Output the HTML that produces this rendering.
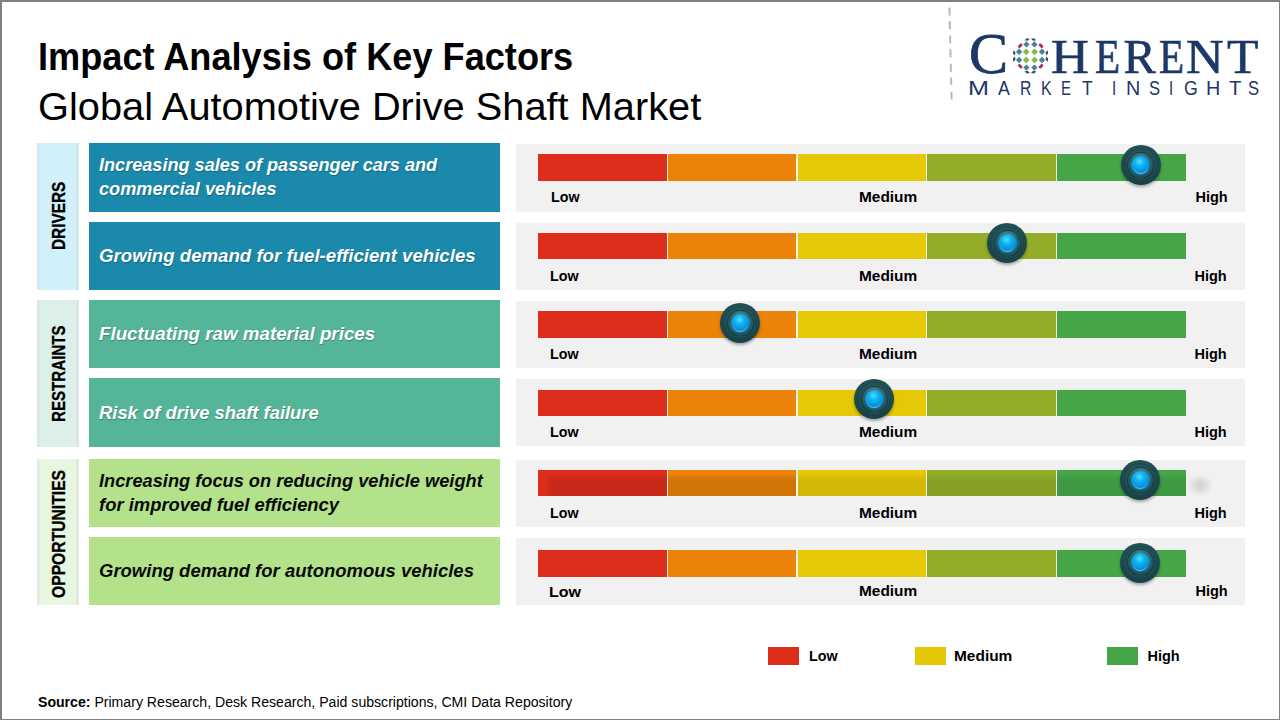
<!DOCTYPE html>
<html><head><meta charset="utf-8"><style>
html,body{margin:0;padding:0;}
body{width:1280px;height:720px;position:relative;overflow:hidden;background:#fff;font-family:"Liberation Sans",sans-serif;}
.frame{position:absolute;left:0;top:0;width:1280px;height:720px;box-sizing:border-box;border-top:2px solid #7f7f7f;border-left:2px solid #7f7f7f;border-right:1px solid #7f7f7f;border-bottom:1px solid #7f7f7f;z-index:50;}
.t{position:absolute;white-space:pre;line-height:1;transform-origin:0 0;}
.b{position:absolute;}
.pan{position:absolute;left:516px;width:729px;background:#f1f1f2;}
.seg{position:absolute;}
.k{position:absolute;border-radius:50%;box-sizing:border-box;}
</style></head><body>
<div class="frame"></div>
<div class="t" style="left:38.15px;top:37.83px;font-size:38px;transform:scaleX(0.9515);font-weight:bold;color:#000;">Impact Analysis of Key Factors</div>
<div class="t" style="left:37.96px;top:86.99px;font-size:39px;transform:scaleX(1.0200);color:#000;">Global Automotive Drive Shaft Market</div>
<div class="b" style="left:37px;top:143px;width:41.5px;height:147px;background:#d1f0f9;box-shadow:inset 2.5px 0 0 rgba(215,222,226,0.45), inset -3px 0 0 rgba(215,222,226,0.5);"></div>
<div class="b" style="left:37px;top:300px;width:41.5px;height:147px;background:#ddefe9;box-shadow:inset 2.5px 0 0 rgba(215,222,226,0.45), inset -3px 0 0 rgba(215,222,226,0.5);"></div>
<div class="b" style="left:37px;top:459px;width:41.5px;height:146px;background:#e8f5df;box-shadow:inset 2.5px 0 0 rgba(215,222,226,0.45), inset -3px 0 0 rgba(215,222,226,0.5);"></div>
<div class="b" style="left:89px;top:143px;width:411px;height:69px;background:#1a89ab;"></div>
<div class="t" style="left:98.70px;top:154.92px;font-size:19.0px;transform:scaleX(0.9530);font-weight:bold;font-style:italic;color:#fff;text-shadow:0.6px 0.8px 1px rgba(0,40,50,0.35);">Increasing sales of passenger cars and</div>
<div class="t" style="left:98.70px;top:178.92px;font-size:19.0px;transform:scaleX(0.9550);font-weight:bold;font-style:italic;color:#fff;text-shadow:0.6px 0.8px 1px rgba(0,40,50,0.35);">commercial vehicles</div>
<div class="b" style="left:89px;top:222px;width:411px;height:68px;background:#1a89ab;"></div>
<div class="t" style="left:98.70px;top:245.92px;font-size:19.0px;transform:scaleX(0.9810);font-weight:bold;font-style:italic;color:#fff;text-shadow:0.6px 0.8px 1px rgba(0,40,50,0.35);">Growing demand for fuel-efficient vehicles</div>
<div class="b" style="left:89px;top:300px;width:411px;height:68px;background:#54b599;"></div>
<div class="t" style="left:98.70px;top:323.92px;font-size:19.0px;transform:scaleX(0.9870);font-weight:bold;font-style:italic;color:#fff;text-shadow:0.6px 0.8px 1px rgba(0,40,50,0.35);">Fluctuating raw material prices</div>
<div class="b" style="left:89px;top:378px;width:411px;height:69px;background:#54b599;"></div>
<div class="t" style="left:98.70px;top:402.92px;font-size:19.0px;transform:scaleX(0.9680);font-weight:bold;font-style:italic;color:#fff;text-shadow:0.6px 0.8px 1px rgba(0,40,50,0.35);">Risk of drive shaft failure</div>
<div class="b" style="left:89px;top:459px;width:411px;height:68px;background:#b3e28a;"></div>
<div class="t" style="left:98.70px;top:470.92px;font-size:19.0px;transform:scaleX(0.9590);font-weight:bold;font-style:italic;color:#0a0a0a;">Increasing focus on reducing vehicle weight</div>
<div class="t" style="left:98.70px;top:494.92px;font-size:19.0px;transform:scaleX(0.9690);font-weight:bold;font-style:italic;color:#0a0a0a;">for improved fuel efficiency</div>
<div class="b" style="left:89px;top:537px;width:411px;height:68px;background:#b3e28a;"></div>
<div class="t" style="left:98.70px;top:560.92px;font-size:19.0px;transform:scaleX(0.9730);font-weight:bold;font-style:italic;color:#0a0a0a;">Growing demand for autonomous vehicles</div>
<div class="t" style="left:50.9px;top:250px;font-size:17.5px;font-weight:bold;color:#000;-webkit-text-stroke:0.3px #000;transform:rotate(-90deg) scaleX(0.877);">DRIVERS</div>
<div class="t" style="left:50.9px;top:422px;font-size:17.5px;font-weight:bold;color:#000;-webkit-text-stroke:0.3px #000;transform:rotate(-90deg) scaleX(0.864);">RESTRAINTS</div>
<div class="t" style="left:50.9px;top:598px;font-size:17.5px;font-weight:bold;color:#000;-webkit-text-stroke:0.3px #000;transform:rotate(-90deg) scaleX(0.896);">OPPORTUNITIES</div>
<div class="pan" style="top:144px;height:68px;"></div>
<div class="seg" style="left:538px;top:154px;width:129px;height:27px;background:#de2e1b;"></div>
<div class="seg" style="left:668px;top:154px;width:128px;height:27px;background:#eb8308;"></div>
<div class="seg" style="left:798px;top:154px;width:128px;height:27px;background:#e5c906;"></div>
<div class="seg" style="left:927px;top:154px;width:129px;height:27px;background:#93ad28;"></div>
<div class="seg" style="left:1057px;top:154px;width:129px;height:27px;background:#46a547;"></div>
<div class="t" style="left:550.90px;top:189.73px;font-size:14.5px;transform:scaleX(0.9850);font-weight:bold;color:#000;">Low</div>
<div class="t" style="left:859.40px;top:189.73px;font-size:14.5px;transform:scaleX(1.0630);font-weight:bold;color:#000;">Medium</div>
<div class="t" style="left:1195.50px;top:189.73px;font-size:14.5px;font-weight:bold;color:#000;">High</div>
<div class="k" style="left:1120.5px;top:145.2px;width:40px;height:40px;background:radial-gradient(circle at 50% 40%, #2a5c62 0, #1f4f55 50%, #163f44 78%, #0d2d31 95%, #0a282c 100%);box-shadow:0 2px 3px rgba(0,0,0,0.32);z-index:5;"></div><div class="k" style="left:1123.5px;top:148.2px;width:34px;height:34px;border:1px solid rgba(12,42,46,0.22);z-index:6;"></div><div class="k" style="left:1127.0px;top:151.7px;width:27px;height:27px;background:radial-gradient(circle at 50% 22%, #4a878d 0, #2c646a 42%, #1b474d 100%);border:1px solid rgba(10,36,40,0.5);z-index:7;"></div><div class="k" style="left:1131.0px;top:155.7px;width:19px;height:19px;background:radial-gradient(circle at 45% 30%, #4de2ff 0, #12b5f3 26%, #0898de 52%, #0a74b8 80%, #0a5688 100%);z-index:8;"></div><div class="k" style="left:1133.5px;top:159.7px;width:14px;height:14px;border-bottom:1.5px solid rgba(130,220,240,0.7);z-index:9;"></div>
<div class="pan" style="top:223px;height:67px;"></div>
<div class="seg" style="left:538px;top:233px;width:129px;height:26px;background:#de2e1b;"></div>
<div class="seg" style="left:668px;top:233px;width:128px;height:26px;background:#eb8308;"></div>
<div class="seg" style="left:798px;top:233px;width:128px;height:26px;background:#e5c906;"></div>
<div class="seg" style="left:927px;top:233px;width:129px;height:26px;background:#93ad28;"></div>
<div class="seg" style="left:1057px;top:233px;width:129px;height:26px;background:#46a547;"></div>
<div class="t" style="left:549.70px;top:268.73px;font-size:14.5px;transform:scaleX(0.9850);font-weight:bold;color:#000;">Low</div>
<div class="t" style="left:859.40px;top:268.73px;font-size:14.5px;transform:scaleX(1.0630);font-weight:bold;color:#000;">Medium</div>
<div class="t" style="left:1194.50px;top:268.73px;font-size:14.5px;font-weight:bold;color:#000;">High</div>
<div class="k" style="left:987.0px;top:223.0px;width:40px;height:40px;background:radial-gradient(circle at 50% 40%, #2a5c62 0, #1f4f55 50%, #163f44 78%, #0d2d31 95%, #0a282c 100%);box-shadow:0 2px 3px rgba(0,0,0,0.32);z-index:5;"></div><div class="k" style="left:990.0px;top:226.0px;width:34px;height:34px;border:1px solid rgba(12,42,46,0.22);z-index:6;"></div><div class="k" style="left:993.5px;top:229.5px;width:27px;height:27px;background:radial-gradient(circle at 50% 22%, #4a878d 0, #2c646a 42%, #1b474d 100%);border:1px solid rgba(10,36,40,0.5);z-index:7;"></div><div class="k" style="left:997.5px;top:233.5px;width:19px;height:19px;background:radial-gradient(circle at 45% 30%, #4de2ff 0, #12b5f3 26%, #0898de 52%, #0a74b8 80%, #0a5688 100%);z-index:8;"></div><div class="k" style="left:1000.0px;top:237.5px;width:14px;height:14px;border-bottom:1.5px solid rgba(130,220,240,0.7);z-index:9;"></div>
<div class="pan" style="top:301px;height:67px;"></div>
<div class="seg" style="left:538px;top:311px;width:129px;height:27px;background:#de2e1b;"></div>
<div class="seg" style="left:668px;top:311px;width:128px;height:27px;background:#eb8308;"></div>
<div class="seg" style="left:798px;top:311px;width:128px;height:27px;background:#e5c906;"></div>
<div class="seg" style="left:927px;top:311px;width:129px;height:27px;background:#93ad28;"></div>
<div class="seg" style="left:1057px;top:311px;width:129px;height:27px;background:#46a547;"></div>
<div class="t" style="left:549.70px;top:346.73px;font-size:14.5px;transform:scaleX(0.9850);font-weight:bold;color:#000;">Low</div>
<div class="t" style="left:859.40px;top:346.73px;font-size:14.5px;transform:scaleX(1.0630);font-weight:bold;color:#000;">Medium</div>
<div class="t" style="left:1194.50px;top:346.73px;font-size:14.5px;font-weight:bold;color:#000;">High</div>
<div class="k" style="left:720.2px;top:303.3px;width:40px;height:40px;background:radial-gradient(circle at 50% 40%, #2a5c62 0, #1f4f55 50%, #163f44 78%, #0d2d31 95%, #0a282c 100%);box-shadow:0 2px 3px rgba(0,0,0,0.32);z-index:5;"></div><div class="k" style="left:723.2px;top:306.3px;width:34px;height:34px;border:1px solid rgba(12,42,46,0.22);z-index:6;"></div><div class="k" style="left:726.7px;top:309.8px;width:27px;height:27px;background:radial-gradient(circle at 50% 22%, #4a878d 0, #2c646a 42%, #1b474d 100%);border:1px solid rgba(10,36,40,0.5);z-index:7;"></div><div class="k" style="left:730.7px;top:313.8px;width:19px;height:19px;background:radial-gradient(circle at 45% 30%, #4de2ff 0, #12b5f3 26%, #0898de 52%, #0a74b8 80%, #0a5688 100%);z-index:8;"></div><div class="k" style="left:733.2px;top:317.8px;width:14px;height:14px;border-bottom:1.5px solid rgba(130,220,240,0.7);z-index:9;"></div>
<div class="pan" style="top:379px;height:67px;"></div>
<div class="seg" style="left:538px;top:390px;width:129px;height:26px;background:#de2e1b;"></div>
<div class="seg" style="left:668px;top:390px;width:128px;height:26px;background:#eb8308;"></div>
<div class="seg" style="left:798px;top:390px;width:128px;height:26px;background:#e5c906;"></div>
<div class="seg" style="left:927px;top:390px;width:129px;height:26px;background:#93ad28;"></div>
<div class="seg" style="left:1057px;top:390px;width:129px;height:26px;background:#46a547;"></div>
<div class="t" style="left:549.70px;top:424.73px;font-size:14.5px;transform:scaleX(0.9850);font-weight:bold;color:#000;">Low</div>
<div class="t" style="left:859.40px;top:424.73px;font-size:14.5px;transform:scaleX(1.0630);font-weight:bold;color:#000;">Medium</div>
<div class="t" style="left:1194.50px;top:424.73px;font-size:14.5px;font-weight:bold;color:#000;">High</div>
<div class="k" style="left:854.3px;top:379.0px;width:40px;height:40px;background:radial-gradient(circle at 50% 40%, #2a5c62 0, #1f4f55 50%, #163f44 78%, #0d2d31 95%, #0a282c 100%);box-shadow:0 2px 3px rgba(0,0,0,0.32);z-index:5;"></div><div class="k" style="left:857.3px;top:382.0px;width:34px;height:34px;border:1px solid rgba(12,42,46,0.22);z-index:6;"></div><div class="k" style="left:860.8px;top:385.5px;width:27px;height:27px;background:radial-gradient(circle at 50% 22%, #4a878d 0, #2c646a 42%, #1b474d 100%);border:1px solid rgba(10,36,40,0.5);z-index:7;"></div><div class="k" style="left:864.8px;top:389.5px;width:19px;height:19px;background:radial-gradient(circle at 45% 30%, #4de2ff 0, #12b5f3 26%, #0898de 52%, #0a74b8 80%, #0a5688 100%);z-index:8;"></div><div class="k" style="left:867.3px;top:393.5px;width:14px;height:14px;border-bottom:1.5px solid rgba(130,220,240,0.7);z-index:9;"></div>
<div class="pan" style="top:460px;height:67px;"></div>
<div class="seg" style="left:538px;top:470px;width:129px;height:26px;background:linear-gradient(to right, #de2e1b 0, #de2e1b 6px, rgba(0,0,0,0) 14px), linear-gradient(to bottom, #de2e1b 0, #de2e1b 4px, #c82818 10px, #c82818 100%);"></div>
<div class="seg" style="left:668px;top:470px;width:128px;height:26px;background:linear-gradient(to bottom, #eb8308 0, #eb8308 4px, #d07406 10px, #d07406 100%);"></div>
<div class="seg" style="left:798px;top:470px;width:128px;height:26px;background:linear-gradient(to bottom, #e5c906 0, #e5c906 4px, #d2b706 10px, #d2b706 100%);"></div>
<div class="seg" style="left:927px;top:470px;width:129px;height:26px;background:linear-gradient(to bottom, #93ad28 0, #93ad28 4px, #86a025 10px, #86a025 100%);"></div>
<div class="seg" style="left:1057px;top:470px;width:129px;height:26px;background:linear-gradient(to bottom, #46a547 0, #46a547 4px, #3e9a42 10px, #3e9a42 100%);"></div>
<div class="b" style="left:1180px;top:466px;width:40px;height:38px;background:radial-gradient(ellipse 13px 11px at 50% 50%, rgba(0,0,0,0.14) 0, rgba(0,0,0,0.07) 55%, rgba(0,0,0,0) 100%);"></div>
<div class="t" style="left:549.70px;top:505.73px;font-size:14.5px;transform:scaleX(0.9850);font-weight:bold;color:#000;">Low</div>
<div class="t" style="left:859.40px;top:505.73px;font-size:14.5px;transform:scaleX(1.0630);font-weight:bold;color:#000;">Medium</div>
<div class="t" style="left:1194.50px;top:505.73px;font-size:14.5px;font-weight:bold;color:#000;">High</div>
<div class="k" style="left:1120.4px;top:460.2px;width:40px;height:40px;background:radial-gradient(circle at 50% 40%, #2a5c62 0, #1f4f55 50%, #163f44 78%, #0d2d31 95%, #0a282c 100%);box-shadow:0 2px 3px rgba(0,0,0,0.32);z-index:5;"></div><div class="k" style="left:1123.4px;top:463.2px;width:34px;height:34px;border:1px solid rgba(12,42,46,0.22);z-index:6;"></div><div class="k" style="left:1126.9px;top:466.7px;width:27px;height:27px;background:radial-gradient(circle at 50% 22%, #4a878d 0, #2c646a 42%, #1b474d 100%);border:1px solid rgba(10,36,40,0.5);z-index:7;"></div><div class="k" style="left:1130.9px;top:470.7px;width:19px;height:19px;background:radial-gradient(circle at 45% 30%, #4de2ff 0, #12b5f3 26%, #0898de 52%, #0a74b8 80%, #0a5688 100%);z-index:8;"></div><div class="k" style="left:1133.4px;top:474.7px;width:14px;height:14px;border-bottom:1.5px solid rgba(130,220,240,0.7);z-index:9;"></div>
<div class="pan" style="top:538px;height:67px;"></div>
<div class="seg" style="left:538px;top:550px;width:129px;height:27px;background:#de2e1b;"></div>
<div class="seg" style="left:668px;top:550px;width:128px;height:27px;background:#eb8308;"></div>
<div class="seg" style="left:798px;top:550px;width:128px;height:27px;background:#e5c906;"></div>
<div class="seg" style="left:927px;top:550px;width:129px;height:27px;background:#93ad28;"></div>
<div class="seg" style="left:1057px;top:550px;width:129px;height:27px;background:#46a547;"></div>
<div class="t" style="left:548.80px;top:583.88px;font-size:15.5px;transform:scaleX(1.0340);font-weight:bold;color:#000;">Low</div>
<div class="t" style="left:859.40px;top:583.73px;font-size:14.5px;transform:scaleX(1.0630);font-weight:bold;color:#000;">Medium</div>
<div class="t" style="left:1195.50px;top:583.73px;font-size:14.5px;font-weight:bold;color:#000;">High</div>
<div class="k" style="left:1120.2px;top:542.5px;width:40px;height:40px;background:radial-gradient(circle at 50% 40%, #2a5c62 0, #1f4f55 50%, #163f44 78%, #0d2d31 95%, #0a282c 100%);box-shadow:0 2px 3px rgba(0,0,0,0.32);z-index:5;"></div><div class="k" style="left:1123.2px;top:545.5px;width:34px;height:34px;border:1px solid rgba(12,42,46,0.22);z-index:6;"></div><div class="k" style="left:1126.7px;top:549.0px;width:27px;height:27px;background:radial-gradient(circle at 50% 22%, #4a878d 0, #2c646a 42%, #1b474d 100%);border:1px solid rgba(10,36,40,0.5);z-index:7;"></div><div class="k" style="left:1130.7px;top:553.0px;width:19px;height:19px;background:radial-gradient(circle at 45% 30%, #4de2ff 0, #12b5f3 26%, #0898de 52%, #0a74b8 80%, #0a5688 100%);z-index:8;"></div><div class="k" style="left:1133.2px;top:557.0px;width:14px;height:14px;border-bottom:1.5px solid rgba(130,220,240,0.7);z-index:9;"></div>
<div class="b" style="left:768px;top:647px;width:31px;height:18px;background:#de2e1b;"></div>
<div class="b" style="left:915px;top:647px;width:31px;height:18px;background:#e4c806;"></div>
<div class="b" style="left:1107px;top:647px;width:31px;height:18px;background:#46a547;"></div>
<div class="t" style="left:808.50px;top:648.73px;font-size:14.5px;transform:scaleX(0.9850);font-weight:bold;color:#000;">Low</div>
<div class="t" style="left:954.40px;top:648.73px;font-size:14.5px;transform:scaleX(1.0650);font-weight:bold;color:#000;">Medium</div>
<div class="t" style="left:1147.50px;top:648.73px;font-size:14.5px;font-weight:bold;color:#000;">High</div>
<div class="t" style="left:38.40px;top:695.15px;font-size:14px;transform:scaleX(1.0068);color:#000;"><b>Source:</b> Primary Research, Desk Research, Paid subscriptions, CMI Data Repository</div>
<svg style="position:absolute;left:0;top:0;" width="1280" height="110" viewBox="0 0 1280 110"><line x1="949.40" y1="7.5" x2="949.59" y2="15.4" stroke="#b9b9b9" stroke-width="2"/><line x1="949.73" y1="21.25" x2="949.92" y2="29.2" stroke="#b9b9b9" stroke-width="2"/><line x1="950.07" y1="35.4" x2="950.26" y2="43.3" stroke="#b9b9b9" stroke-width="2"/><line x1="950.40" y1="49.2" x2="950.60" y2="57.5" stroke="#b9b9b9" stroke-width="2"/><line x1="950.75" y1="63.75" x2="950.94" y2="71.7" stroke="#b9b9b9" stroke-width="2"/><line x1="951.07" y1="77.5" x2="951.25" y2="85" stroke="#b9b9b9" stroke-width="2"/><line x1="951.41" y1="91.7" x2="951.60" y2="99.6" stroke="#b9b9b9" stroke-width="2"/><path d="M1022.80,51.80 L1026.20,48.40 L1029.60,51.80 L1026.20,55.20 Z" fill="#88ba52" transform="rotate(0 1026.20 51.80)"/><path d="M1022.80,60.00 L1026.20,56.60 L1029.60,60.00 L1026.20,63.40 Z" fill="#88ba52" transform="rotate(0 1026.20 60.00)"/><path d="M1031.20,51.80 L1034.60,48.40 L1038.00,51.80 L1034.60,55.20 Z" fill="#88ba52" transform="rotate(0 1034.60 51.80)"/><path d="M1031.20,60.00 L1034.60,56.60 L1038.00,60.00 L1034.60,63.40 Z" fill="#88ba52" transform="rotate(0 1034.60 60.00)"/><path d="M1023.20,44.40 L1026.40,41.20 L1029.60,44.40 L1026.40,47.60 Z" fill="#43839b" transform="rotate(0 1026.40 44.40)"/><path d="M1023.20,67.60 L1026.40,64.40 L1029.60,67.60 L1026.40,70.80 Z" fill="#43839b" transform="rotate(0 1026.40 67.60)"/><path d="M1031.20,44.40 L1034.40,41.20 L1037.60,44.40 L1034.40,47.60 Z" fill="#43839b" transform="rotate(0 1034.40 44.40)"/><path d="M1031.20,67.60 L1034.40,64.40 L1037.60,67.60 L1034.40,70.80 Z" fill="#43839b" transform="rotate(0 1034.40 67.60)"/><path d="M1015.90,51.80 L1019.10,48.60 L1022.30,51.80 L1019.10,55.00 Z" fill="#43839b" transform="rotate(0 1019.10 51.80)"/><path d="M1038.80,51.80 L1042.00,48.60 L1045.20,51.80 L1042.00,55.00 Z" fill="#43839b" transform="rotate(0 1042.00 51.80)"/><path d="M1015.90,60.00 L1019.10,56.80 L1022.30,60.00 L1019.10,63.20 Z" fill="#43839b" transform="rotate(0 1019.10 60.00)"/><path d="M1038.80,60.00 L1042.00,56.80 L1045.20,60.00 L1042.00,63.20 Z" fill="#43839b" transform="rotate(0 1042.00 60.00)"/><rect x="1017.80" y="44.40" width="4.8" height="2.8" rx="0.6" fill="#a8305e" transform="rotate(-45 1020.20 45.80)"/><rect x="1038.60" y="44.40" width="4.8" height="2.8" rx="0.6" fill="#a8305e" transform="rotate(45 1041.00 45.80)"/><rect x="1017.80" y="64.80" width="4.8" height="2.8" rx="0.6" fill="#a8305e" transform="rotate(45 1020.20 66.20)"/><rect x="1038.60" y="64.80" width="4.8" height="2.8" rx="0.6" fill="#a8305e" transform="rotate(-45 1041.00 66.20)"/><path d="M1024.40,39.50 L1027.20,38.10 L1030.00,39.50 L1027.20,40.90 Z" fill="#4d4257" transform="rotate(-15 1027.20 39.50)"/><path d="M1030.80,39.50 L1033.60,38.10 L1036.40,39.50 L1033.60,40.90 Z" fill="#4d4257" transform="rotate(15 1033.60 39.50)"/><path d="M1024.40,72.20 L1027.20,70.80 L1030.00,72.20 L1027.20,73.60 Z" fill="#4d4257" transform="rotate(15 1027.20 72.20)"/><path d="M1030.80,72.20 L1033.60,70.80 L1036.40,72.20 L1033.60,73.60 Z" fill="#4d4257" transform="rotate(-15 1033.60 72.20)"/><path d="M1011.40,52.90 L1014.20,51.50 L1017.00,52.90 L1014.20,54.30 Z" fill="#4d4257" transform="rotate(75 1014.20 52.90)"/><path d="M1011.40,59.20 L1014.20,57.80 L1017.00,59.20 L1014.20,60.60 Z" fill="#4d4257" transform="rotate(-75 1014.20 59.20)"/><path d="M1044.10,52.90 L1046.90,51.50 L1049.70,52.90 L1046.90,54.30 Z" fill="#4d4257" transform="rotate(-75 1046.90 52.90)"/><path d="M1044.10,59.20 L1046.90,57.80 L1049.70,59.20 L1046.90,60.60 Z" fill="#4d4257" transform="rotate(75 1046.90 59.20)"/></svg>

<div class="t" style="left:969.30px;top:26.40px;font-size:56.8px;font-family:'Liberation Serif';color:#1d3766;transform:scaleX(1.03);-webkit-text-stroke:0.8px #1d3766;">C</div>
<div class="t" style="left:1051.20px;top:32.60px;font-size:48.5px;font-family:'Liberation Serif';color:#1d3766;transform:scaleX(1.08);-webkit-text-stroke:0.6px #1d3766;">H</div>
<div class="t" style="left:1095.30px;top:32.60px;font-size:48.5px;font-family:'Liberation Serif';color:#1d3766;transform:scaleX(0.846);-webkit-text-stroke:0.6px #1d3766;">E</div>
<div class="t" style="left:1123.50px;top:32.60px;font-size:48.5px;font-family:'Liberation Serif';color:#1d3766;transform:scaleX(1.0);-webkit-text-stroke:0.6px #1d3766;">R</div>
<div class="t" style="left:1159.10px;top:32.60px;font-size:48.5px;font-family:'Liberation Serif';color:#1d3766;transform:scaleX(0.846);-webkit-text-stroke:0.6px #1d3766;">E</div>
<div class="t" style="left:1186.20px;top:32.60px;font-size:48.5px;font-family:'Liberation Serif';color:#1d3766;transform:scaleX(1.076);-webkit-text-stroke:0.6px #1d3766;">N</div>
<div class="t" style="left:1226.60px;top:32.60px;font-size:48.5px;font-family:'Liberation Serif';color:#1d3766;transform:scaleX(1.06);-webkit-text-stroke:0.6px #1d3766;">T</div>
<div class="t" style="left:968.40px;top:77.80px;font-size:20px;font-family:'Liberation Sans';color:#1d3766;transform:scaleX(1.26);">M</div>
<div class="t" style="left:998.40px;top:77.80px;font-size:20px;font-family:'Liberation Sans';color:#1d3766;transform:scaleX(0.89);">A</div>
<div class="t" style="left:1020.30px;top:77.80px;font-size:20px;font-family:'Liberation Sans';color:#1d3766;transform:scaleX(0.79);">R</div>
<div class="t" style="left:1041.40px;top:77.80px;font-size:20px;font-family:'Liberation Sans';color:#1d3766;transform:scaleX(0.8);">K</div>
<div class="t" style="left:1061.40px;top:77.80px;font-size:20px;font-family:'Liberation Sans';color:#1d3766;transform:scaleX(0.745);">E</div>
<div class="t" style="left:1081.60px;top:77.80px;font-size:20px;font-family:'Liberation Sans';color:#1d3766;transform:scaleX(0.883);">T</div>
<div class="t" style="left:1111.50px;top:77.80px;font-size:20px;font-family:'Liberation Sans';color:#1d3766;transform:scaleX(0.75);">I</div>
<div class="t" style="left:1125.60px;top:77.80px;font-size:20px;font-family:'Liberation Sans';color:#1d3766;transform:scaleX(0.99);">N</div>
<div class="t" style="left:1148.50px;top:77.80px;font-size:20px;font-family:'Liberation Sans';color:#1d3766;transform:scaleX(0.83);">S</div>
<div class="t" style="left:1168.50px;top:77.80px;font-size:20px;font-family:'Liberation Sans';color:#1d3766;transform:scaleX(0.75);">I</div>
<div class="t" style="left:1183.60px;top:77.80px;font-size:20px;font-family:'Liberation Sans';color:#1d3766;transform:scaleX(0.885);">G</div>
<div class="t" style="left:1205.50px;top:77.80px;font-size:20px;font-family:'Liberation Sans';color:#1d3766;transform:scaleX(0.99);">H</div>
<div class="t" style="left:1228.60px;top:77.80px;font-size:20px;font-family:'Liberation Sans';color:#1d3766;transform:scaleX(1.017);">T</div>
<div class="t" style="left:1248.40px;top:77.80px;font-size:20px;font-family:'Liberation Sans';color:#1d3766;transform:scaleX(0.83);">S</div>
</body></html>
